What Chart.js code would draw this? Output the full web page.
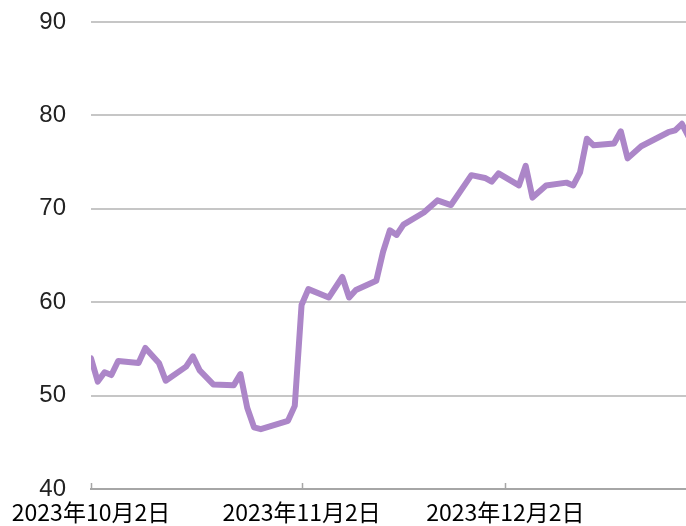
<!DOCTYPE html>
<html>
<head>
<meta charset="utf-8">
<script src="https://cdn.jsdelivr.net/npm/chart.js@4/dist/chart.umd.min.js"></script>
<style>
  html, body { margin: 0; padding: 0; background: #fff; }
  #wrap { width: 686px; height: 526px; }
</style>
</head>
<body>
<div id="wrap"><canvas id="chart"></canvas></div>
<script>
// days counted from 2023-10-02
const days = [0, 1, 2, 3, 4, 7, 8, 10, 11, 14, 15, 16, 18, 21, 22, 23, 24, 25, 29, 30,
  31, 32, 35, 37, 38, 39, 42, 43, 44, 45, 46, 49, 51, 53, 56, 58, 59, 60,
  63, 64, 65, 67, 70, 71, 72, 73, 74, 77, 78, 79, 81, 85, 86, 87, 88];
const values = [54.0, 51.5, 52.5, 52.2, 53.7, 53.5, 55.1, 53.5, 51.6, 53.1, 54.2, 52.7, 51.2, 51.1, 52.3, 48.7, 46.6, 46.4, 47.3, 48.9,
  59.7, 61.4, 60.5, 62.7, 60.5, 61.3, 62.3, 65.4, 67.7, 67.2, 68.3, 69.6, 70.9, 70.4, 73.6, 73.3, 72.9, 73.8,
  72.5, 74.6, 71.2, 72.5, 72.8, 72.5, 73.9, 77.5, 76.8, 77.0, 78.3, 75.4, 76.7, 78.2, 78.4, 79.1, 77.7];

const xTickDays = [0, 31, 61];
const xTickLabels = ['2023年10月2日', '2023年11月2日', '2023年12月2日'];
const yTicks = [40, 50, 60, 70, 80, 90];

// small tick marks pointing up from the x axis line
const upTicks = {
    id: 'upTicks',
    afterDraw(chart) {
        const x = chart.scales.x;
        const c = chart.ctx;
        c.save();
        c.strokeStyle = '#a6a6a6';
        c.lineWidth = 1.5;
        xTickDays.forEach(d => {
            const px = Math.round(x.getPixelForValue(d)) + 0.5;
            c.beginPath();
            c.moveTo(px, chart.chartArea.bottom);
            c.lineTo(px, chart.chartArea.bottom - 6);
            c.stroke();
        });
        c.restore();
    }
};

const ctx = document.getElementById('chart').getContext('2d');
const chart = new Chart(ctx, {
    type: 'line',
    data: {
        datasets: [{
            data: days.map((d, i) => ({ x: d, y: values[i] })),
            borderColor: '#ac86c8',
            borderWidth: 6,
            pointRadius: 0,
            tension: 0,
            borderJoinStyle: 'round',
            borderCapStyle: 'round'
        }]
    },
    options: {
        responsive: true,
        maintainAspectRatio: false,
        animation: false,
        layout: { padding: { top: 22, right: 0, bottom: 0, left: 0 } },
        plugins: { legend: { display: false }, tooltip: { enabled: false } },
        scales: {
            x: {
                type: 'linear',
                min: 0,
                max: 87.6,
                afterBuildTicks: s => { s.ticks = xTickDays.map(v => ({ value: v })); },
                afterFit: s => { s.height = 37; },
                grid: { display: false, drawTicks: false },
                border: { display: true, color: '#a6a6a6', width: 2 },
                ticks: {
                    padding: 9,
                    maxRotation: 0,
                    autoSkip: false,
                    color: '#000',
                    font: { family: '"Noto Sans CJK JP", sans-serif', size: 23 },
                    callback: v => xTickLabels[xTickDays.indexOf(v)]
                }
            },
            y: {
                min: 40,
                max: 90,
                afterBuildTicks: s => { s.ticks = yTicks.map(v => ({ value: v })); },
                afterFit: s => { s.width = 91; },
                grid: {
                    color: ctx => ctx.tick && ctx.tick.value === 40 ? 'rgba(0,0,0,0)' : '#c6c6c6',
                    lineWidth: 2,
                    drawTicks: true,
                    tickLength: 25,
                    tickColor: 'rgba(0,0,0,0)'
                },
                border: { display: false },
                ticks: {
                    padding: 0,
                    color: '#222',
                    font: { family: '"Liberation Sans", Arial, sans-serif', size: 24 }
                }
            }
        }
    },
    plugins: [upTicks]
});
</script>
</body>
</html>
